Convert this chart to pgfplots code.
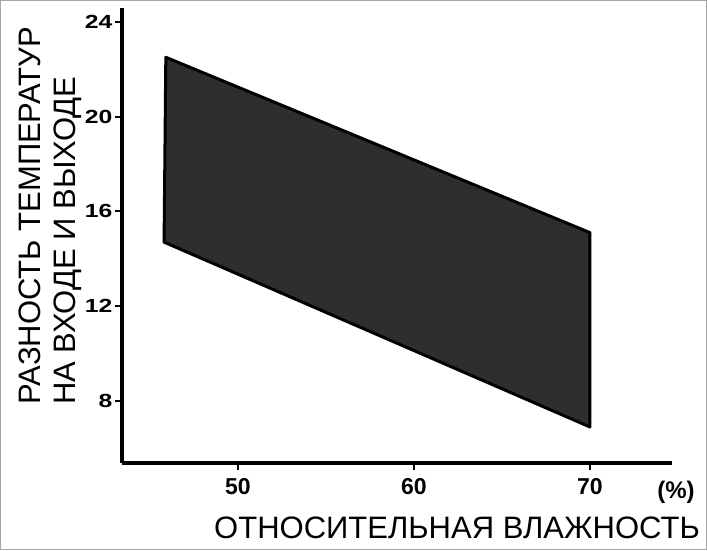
\documentclass[border=0pt]{standalone}
\usepackage{pgfplots}
\pgfplotsset{compat=1.18}
\usepackage{graphicx}
\usepackage{fontspec}
\setmainfont{Liberation Sans}
\newcommand{\yl}[1]{\scalebox{1.3}[1]{\fontsize{19}{19}\selectfont\bfseries #1}}
\newcommand{\xl}[1]{{\fontsize{23}{23}\selectfont\bfseries #1}}
\begin{document}
\begin{tikzpicture}
\path[use as bounding box] (0pt,0pt) rectangle (707pt,550pt);
\draw[gray!70, line width=1.2pt] (0.6pt,0.6pt) rectangle (706.4pt,549.4pt);
\begin{axis}[
  at={(122pt,87pt)}, anchor=south west,
  scale only axis, width=550pt, height=455pt,
  xmin=43.41, xmax=74.66, ymin=5.38, ymax=24.58,
  axis lines*=left,
  axis line style={line width=4.5pt, black},
  xtick={50,60,70}, ytick={8,12,16,20,24},
  xticklabels={\xl{50},\xl{60},\xl{70}},
  yticklabels={\yl{8},\yl{12},\yl{16},\yl{20},\yl{24}},
  tick align=outside, major tick length=7pt,
  tick style={black, line width=2pt},
  y tick label style={xshift=1pt},
  x tick label style={yshift=-5pt},
  clip=false,
]
\addplot[fill=black!82, draw=black, line width=3pt, line join=round]
  coordinates {(45.9,22.5) (70,15.1) (70,6.9) (45.8,14.7)} -- cycle;
\end{axis}
\node[rotate=90, anchor=base west, inner sep=0pt, font=\fontsize{31}{31}\selectfont] at (40pt,145pt) {РАЗНОСТЬ ТЕМПЕРАТУР};
\node[rotate=90, anchor=base west, inner sep=0pt, font=\fontsize{31}{31}\selectfont] at (75pt,145pt) {НА ВХОДЕ И ВЫХОДЕ};
\node[anchor=base west, inner sep=0pt, font=\fontsize{31}{31}\selectfont] at (214pt,12pt) {ОТНОСИТЕЛЬНАЯ ВЛАЖНОСТЬ};
\node[anchor=center, inner sep=0pt, font=\fontsize{24}{24}\selectfont\bfseries] at (676pt,58pt) {(\%)};
\end{tikzpicture}
\end{document}
